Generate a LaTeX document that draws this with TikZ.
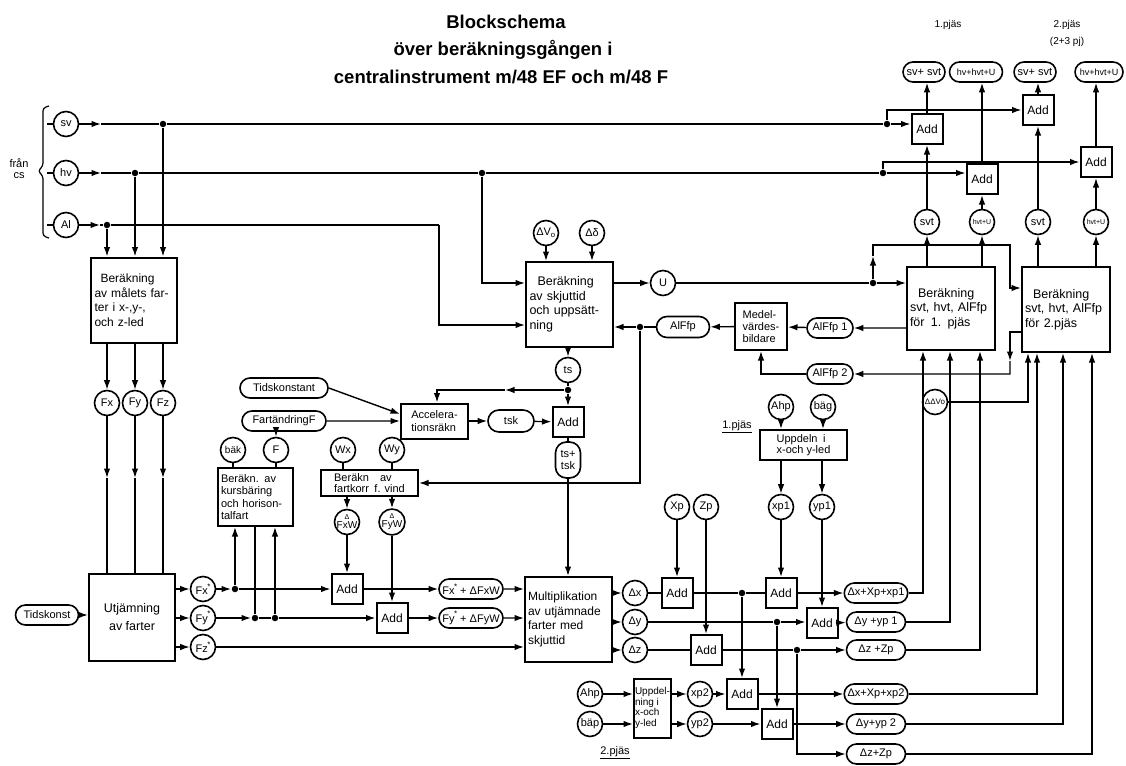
\documentclass[tikz,border=0pt]{standalone}
\usepackage{fontspec}
\setmainfont{Liberation Sans}
\usetikzlibrary{arrows.meta,shapes.misc}
\newcommand\myfs[2]{\fontsize{#1}{#2}\selectfont}
\newcommand\stx[1]{#1\kern-0.5pt\raisebox{0.5em}{\myfs{8}{8}*}}
\tikzset{
 circ/.style={circle,draw,line width=1.6pt,minimum size=25pt,inner sep=0pt,font=\myfs{11}{12}},
 blk/.style={rectangle,draw,line width=2pt,inner sep=3pt,align=left,font=\myfs{12.5}{14.5}},
 addb/.style={rectangle,draw,line width=2pt,minimum width=31pt,minimum height=30pt,inner sep=0pt,font=\myfs{12}{13}},
 pill/.style={rounded rectangle,draw,line width=1.6pt,minimum height=20pt,inner xsep=2pt,inner ysep=0pt,font=\myfs{11}{12}},
 dot/.style={circle,fill,inner sep=0pt,minimum size=6.5pt},
 lbl/.style={inner sep=0pt,font=\myfs{11}{13}},
 ttl/.style={inner sep=0pt,font=\bfseries\myfs{18.5}{22}},
}
\begin{document}
\begin{tikzpicture}[x=1pt,y=-1pt,line width=1.4pt,>={Latex[length=9.5pt,width=6.5pt]}]
\useasboundingbox (0,0) rectangle (1126,765);
% title
\node[ttl] (t1) at (506,22) {Blockschema};
\node[ttl] (t2) at (503,50) {över beräkningsgången i};
\node[ttl] (t3) at (501,77) {centralinstrument m/48 EF och m/48 F};
\node[lbl,font=\myfs{10}{12}] (pj1) at (948,25) {1.pjäs};
\node[lbl,font=\myfs{10}{12}] (pj2) at (1067,25) {2.pjäs};
\node[lbl,font=\myfs{10}{12}] (pj3) at (1067,42) {(2+3 pj)};
% inputs
\node[circ] (sv) at (66,124) {sv};
\node[circ] (hv) at (66,173) {hv};
\node[circ] (al) at (66,225) {Al};
\coordinate (svl) at (47,124);
\coordinate (hvl) at (47,173);
\coordinate (all) at (47,225);
\coordinate (svm) at (101,124);
\coordinate (hvm) at (101,173);
\coordinate (alm) at (100,225);
\draw (svl) -- (sv); \draw (hvl) -- (hv); \draw (all) -- (al);
\draw[line width=1.2pt,rounded corners=3pt] (49,106) -- (43,108) -- (43,166) -- (38,171) -- (43,176) -- (43,236) -- (49,238);
\node[lbl] (fran) at (19,163) {från};
\node[lbl] (cs) at (19,176) {cs};
\node[dot] (jsv) at (163,124) {};
\node[dot] (jhv) at (135,173) {};
\node[dot] (jal) at (107,225) {};
\node[dot] (jhv2) at (482,173) {};
\node[dot] (jrsv) at (887,124) {};
\node[dot] (jrhv) at (883,173) {};
\coordinate (calr) at (439,225);
% block Beräkning mål
\node[blk,minimum width=86pt,minimum height=85pt,text width=79pt,font=\myfs{12}{14.5}] (b0) at (134,300) {\hspace*{6pt}Beräkning\\av målets far-\\ter i x-,y-,\\och z-led};
\draw[->] (sv) -- (svm);
\draw (svm) -- (jsv) -- (jrsv);
\draw[->] (hv) -- (hvm);
\draw (hvm) -- (jhv) -- (jhv2) -- (jrhv);
\draw[->] (al) -- (alm);
\draw (alm) -- (jal) -- (calr);
\draw[->] (jal) -- (jal |- b0.north);
\draw[->] (jhv) -- (jhv |- b0.north);
\draw[->] (jsv) -- (jsv |- b0.north);
\node[circ] (fx) at (107,403) {Fx};
\node[circ] (fy) at (135,403) {Fy};
\node[circ] (fz) at (163,403) {Fz};
\draw[->] (fx |- b0.south) -- (fx);
\draw[->] (fy |- b0.south) -- (fy);
\draw[->] (fz |- b0.south) -- (fz);
% Utjämning
\node[blk,minimum width=86pt,minimum height=87pt,align=center] (utj) at (132,617) {Utjämning\\[4pt]av farter};
\coordinate (fxm) at (107,478);
\coordinate (fym) at (135,478);
\coordinate (fzm) at (163,478);
\draw[->] (fx) -- (fxm); \draw (fxm) -- (fxm |- utj.north);
\draw[->] (fy) -- (fym); \draw (fym) -- (fym |- utj.north);
\draw[->] (fz) -- (fzm); \draw (fzm) -- (fzm |- utj.north);
\node[pill,minimum width=67pt] (tk) at (47,615) {Tidskonst};
\draw[->] (tk) -- (tk -| utj.west);
\node[circ] (fxs) at (203,589) {F\stx{x}};
\node[circ] (fys) at (203,618) {F\stx{y}};
\node[circ] (fzs) at (203,647) {F\stx{z}};
\draw[->] (fxs -| utj.east) -- (fxs);
\draw[->] (fys -| utj.east) -- (fys);
\draw[->] (fzs -| utj.east) -- (fzs);
\node[dot] (j1) at (235,589) {};
\node[dot] (j2) at (255,618) {};
\node[dot] (j3) at (275,618) {};
% kursbäring
\node[blk,minimum width=75pt,minimum height=58pt,text width=69pt,font=\myfs{11}{12.5}] (kb) at (255.5,497) {Beräkn. av\\kursbäring\\och horison-\\talfart};
\node[circ,font=\myfs{10}{11}] (bak) at (233,450) {bäk};
\node[circ] (fc) at (276,450) {F};
\draw (bak) -- (bak |- kb.north);
\draw (fc) -- (fc |- kb.north);
\node[pill,minimum width=92pt] (tidsk) at (284,388) {Tidskonstant};
\node[pill,minimum width=88pt] (fart) at (284,421) {FartändringF};
\draw[->] (fc |- fart.south) -- (fc);
\draw[->] (fxs) -- (j1);
\draw[->] (j1) -- (j1 |- kb.south);
\draw[->] (fys) -- (j2);
\draw (j2) -- (j2 |- kb.south);
\draw (j2) -- (j3);
\draw[->] (j3) -- (j3 |- kb.south);
% accel
\node[blk,minimum width=67pt,minimum height=35pt,font=\myfs{11}{13}] (acc) at (434.5,421) {Accelera-\\tionsräkn};
\draw[->] (tidsk.east) -- ([yshift=7pt]acc.west);
\draw[->] (fart) -- (fart -| acc.west);
\node[pill,minimum width=50pt,minimum height=22pt] (tsk) at (511,421) {tsk};
\node[addb] (addt) at (568,422) {Add};
\draw[->] (acc) -- (tsk);
\draw[->] (tsk) -- (addt);
\node[circ] (ts) at (568,370) {ts};
\node[dot] (jts) at (568,390) {};
\coordinate (cacc) at (437,390);
\coordinate (jtsm) at (505,390);
\draw (ts) -- (jts);
\draw[->] (jts) -- (addt);
\draw[->] (jts) -- (jtsm);
\draw[->] (jtsm) -- (cacc) -- (cacc |- acc.north);
\node[draw,rectangle,rounded corners=11pt,line width=1.6pt,minimum width=25pt,minimum height=36pt,inner sep=0pt,align=center,font=\myfs{11}{12}] (tsts) at (568,460) {ts+\\tsk};
\draw (addt) -- (tsts);
% skjuttid
\node[blk,minimum width=87pt,minimum height=85pt,text width=80pt] (bs) at (569.5,304.5) {\hspace*{8pt}Beräkning\\av skjuttid\\och uppsätt-\\ning};
\draw[->] (bs.south -| ts) -- (ts);
\node[circ] (dv0) at (546,233) {ΔV\textsubscript{o}};
\node[circ] (ddl) at (592,233) {Δδ};
\draw[->] (dv0) -- (dv0 |- bs.north);
\draw[->] (ddl) -- (ddl |- bs.north);
\node[circ] (u) at (663,283) {U};
\draw[->] (bs.east |- u) -- (u);
\draw[->] (jhv2) |- (bs.west |- u);
\draw[->] (calr) |- ([yshift=-20.5pt]bs.west);
\node[pill,minimum width=57pt,minimum height=21pt] (af) at (683,327) {AlFfp};
\node[dot] (jaf) at (640,327) {};
\draw (af) -- (jaf);
\draw[->] (jaf) -- (jaf -| bs.east);
% fartkorr
\node[blk,minimum width=97pt,minimum height=26pt,inner sep=1pt,font=\myfs{11}{11}] (fk) at (369.5,483) {Beräkn\quad av\\fartkorr\enspace f. vind};
\draw[->] (jaf) |- (fk.east);
\node[circ] (wx) at (343,450) {Wx};
\node[circ] (wy) at (392,450) {Wy};
\draw (wx) -- (wx |- fk.north);
\draw (wy) -- (wy |- fk.north);
\node[circ,align=center,font=\myfs{10}{9}] (dfx) at (347,522) {{\myfs{7}{7}Δ}\\FxW};
\node[circ,align=center,font=\myfs{10}{9}] (dfy) at (392,522) {{\myfs{7}{7}Δ}\\FyW};
\draw[->] (fk.south -| dfx) -- (dfx);
\draw[->] (fk.south -| dfy) -- (dfy);
\node[addb] (addfx) at (347,589) {Add};
\node[addb] (addfy) at (392,618) {Add};
\draw[->] (dfx) -- (addfx);
\draw[->] (dfy) -- (addfy);
\draw[->] (j1) -- (addfx);
\draw[->] (j3) -- (addfy);
\node[pill,minimum width=68pt] (pfx) at (471,589) {F\stx{x} + ΔFxW};
\node[pill,minimum width=68pt] (pfy) at (471,618) {F\stx{y} + ΔFyW};
\draw[->] (addfx) -- (pfx);
\draw[->] (addfy) -- (pfy);
% multiplikation
\node[blk,minimum width=87pt,minimum height=85pt,text width=81pt,font=\myfs{12}{14.5}] (mult) at (568.5,619.5) {Multiplikation\\av utjämnade\\farter med\\skjuttid};
\draw[->] (tsts) -- (tsts |- mult.north);
\draw[->] (pfx) -- (pfx -| mult.west);
\draw[->] (pfy) -- (pfy -| mult.west);
\draw[->] (fzs) -- (fzs -| mult.west);
\node[circ] (dx) at (635,593) {Δx};
\node[circ] (dy) at (635,622) {Δy};
\node[circ] (dz) at (635,650) {Δz};
\draw[->] (mult.east |- dx) -- (dx);
\draw[->] (mult.east |- dy) -- (dy);
\draw[->] (mult.east |- dz) -- (dz);
\node[circ] (xp) at (677,507) {Xp};
\node[circ] (zp) at (706,507) {Zp};
\node[circ] (xp1) at (781,507) {xp1};
\node[circ] (yp1) at (822,507) {yp1};
\node[addb] (addx) at (677,593) {Add};
\node[addb] (addz) at (706,650) {Add};
\node[addb] (addx1) at (781,593) {Add};
\node[addb] (addy1) at (822,623) {Add};
\node[addb] (addx2) at (742,694) {Add};
\node[addb] (addy2) at (777,724) {Add};
\node[dot] (jx) at (742,593) {};
\node[dot] (jy) at (777,622) {};
\node[dot] (jz) at (797,650) {};
\draw (dx) -- (addx);
\draw[->] (xp) -- (addx);
\draw (addx) -- (jx) -- (addx1);
\draw[->] (xp1) -- (addx1);
\draw (dz) -- (addz);
\draw[->] (zp) -- (addz);
\draw (addz) -- (jz);
\draw (dy) -- (jy);
\draw[->] (jy) -- (jy -| addy1.west);
\draw[->] (yp1) -- (addy1);
\draw[->] (jx) -- (addx2);
\draw[->] (jy) -- (addy2);
% uppdelning 1
\node[blk,minimum width=87pt,minimum height=30pt,inner sep=1pt,font=\myfs{11}{11.5}] (upd1) at (803.5,445) {Uppdeln\enspace i\\x-och y-led};
\node[circ] (ahp1) at (781,407) {Ahp};
\node[circ] (bag) at (823,407) {bäg};
\draw[->] (ahp1) -- (ahp1 |- upd1.north);
\draw[->] (bag) -- (bag |- upd1.north);
\draw[->] (xp1 |- upd1.south) -- (xp1);
\draw[->] (yp1 |- upd1.south) -- (yp1);
\node[lbl] (lp1) at (737,427) {\underline{1.pjäs}};
% uppdelning 2
\node[blk,minimum width=31pt,minimum height=59pt,inner sep=1pt,font=\myfs{10}{10.5}] (upd2) at (652.5,708) {Uppdel-\\ning i\\x-och\\y-led};
\node[circ] (ahp2) at (590,694) {Ahp};
\node[circ] (bap) at (590,724) {bäp};
\draw[->] (ahp2) -- (ahp2 -| upd2.west);
\draw[->] (bap) -- (bap -| upd2.west);
\node[circ] (xp2) at (700,694) {xp2};
\node[circ] (yp2) at (700,724) {yp2};
\draw[->] (upd2.east |- xp2) -- (xp2);
\draw[->] (upd2.east |- yp2) -- (yp2);
\draw[->] (xp2) -- (addx2);
\draw[->] (yp2) -- (addy2);
\node[lbl] (lp2) at (615,753) {\underline{2.pjäs}};
% result pills
\node[pill,minimum width=63pt] (p1) at (876,593) {Δx+Xp+xp1};
\node[pill,minimum width=63pt] (p2) at (876,622) {Δy +yp 1};
\node[pill,minimum width=63pt] (p3) at (876,650) {Δz +Zp};
\node[pill,minimum width=63pt] (p4) at (876,694) {Δx+Xp+xp2};
\node[pill,minimum width=63pt] (p5) at (876,724) {Δy+yp 2};
\node[pill,minimum width=63pt] (p6) at (876,754) {Δz+Zp};
\draw[->] (addx1) -- (p1);
\draw[->] (addy1) -- (p2);
\draw[->] (jz) -- (p3);
\draw[->] (jz) |- (p6);
\draw[->] (addx2) -- (p4);
\draw[->] (addy2) -- (p5);
% right blocks
\node[blk,minimum width=88pt,minimum height=83pt,text width=82pt] (bc1) at (951,308.5) {\hspace*{8pt}Beräkning\\svt, hvt, AlFfp\\för\enspace 1. pjäs};
\node[blk,minimum width=88pt,minimum height=85pt,text width=82pt] (bc2) at (1066,309.5) {\hspace*{8pt}Beräkning\\svt, hvt, AlFfp\\för 2.pjäs};
\draw[->] (p1) -| ([xshift=-28pt]bc1.south);
\draw[->] (p2) -| ([xshift=-1pt]bc1.south);
\draw[->] (p3) -| ([xshift=29pt]bc1.south);
\draw[->] (p4) -| ([xshift=-29pt]bc2.south);
\draw[->] (p5) -| ([xshift=-3pt]bc2.south);
\draw[->] (p6) -| ([xshift=26pt]bc2.south);
\node[circ,font=\myfs{8}{9}] (ddv) at (935,402) {ΔΔVo};
\draw[->] (ddv) -| ([xshift=-38pt]bc2.south);
% medel
\node[blk,minimum width=52pt,minimum height=47pt,inner sep=1pt,font=\myfs{11}{12}] (medel) at (761,326.5) {Medel-\\värdes-\\bildare};
\draw[->] (medel) -- (af);
\node[pill,minimum width=50pt] (af1) at (830,328) {AlFfp 1};
\node[pill,minimum width=50pt] (af2) at (830,374) {AlFfp 2};
\draw[->] (bc1.west |- af1) -- (af1);
\draw[->] (af1) -- (medel);
\coordinate (caf) at (1010,374);
\coordinate (cafm) at (1010,361);
\draw[->] ([yshift=-22.5pt]bc2.west) -| (cafm);
\draw[->] (cafm) -- (caf) -- (af2);
\draw[->] (af2) -| (medel.south);
% U routing
\node[dot] (ju) at (873,283) {};
\coordinate (cum) at (873,256);
\coordinate (cu1) at (873,245);
\coordinate (cu2) at (1010,245);
\coordinate (cu3) at (1010,288);
\draw (u) -- (ju);
\draw[->] (ju) -- (ju -| bc1.west);
\draw[->] (ju) -- (cum);
\draw[->] (cum) -- (cu1) -- (cu2) -- (cu3) -- (cu3 -| bc2.west);
% svt circles and adds
\node[circ] (svt1) at (927,222) {svt};
\node[circ,font=\myfs{7}{8}] (hu1) at (982,222) {hvt+U};
\node[circ] (svt2) at (1038,222) {svt};
\node[circ,font=\myfs{7}{8}] (hu2) at (1096,222) {hvt+U};
\draw[->] (svt1 |- bc1.north) -- (svt1);
\draw[->] (hu1 |- bc1.north) -- (hu1);
\draw[->] (svt2 |- bc2.north) -- (svt2);
\draw[->] (hu2 |- bc2.north) -- (hu2);
\node[addb] (add1) at (927,129) {Add};
\node[addb] (add2) at (1038,110) {Add};
\node[addb] (add3) at (982,179) {Add};
\node[addb] (add4) at (1096,162) {Add};
\draw[->] (svt1) -- (add1);
\draw[->] (hu1) -- (add3);
\draw[->] (svt2) -- (add2);
\draw[->] (hu2) -- (add4);
\draw[->] (jrsv) -- (jrsv -| add1.west);
\draw[->] (jrsv) |- (add2.west);
\draw[->] (jrhv) -- (jrhv -| add3.west);
\draw[->] (jrhv) |- (add4.west);
\node[pill,minimum width=46pt] (psv1) at (924,72) {sv+ svt};
\node[pill,minimum width=57pt,font=\myfs{9}{10}] (phv1) at (976,72) {hv+hvt+U};
\node[pill,minimum width=46pt] (psv2) at (1035,72) {sv+ svt};
\node[pill,minimum width=52pt,font=\myfs{9}{10}] (phv2) at (1099,72) {hv+hvt+U};
\draw[->] (add1) -- (add1 |- psv1.south);
\draw[->] (add3) -- (add3 |- phv1.south);
\draw[->] (add2) -- (add2 |- psv2.south);
\draw[->] (add4) -- (add4 |- phv2.south);
\end{tikzpicture}
\end{document}
